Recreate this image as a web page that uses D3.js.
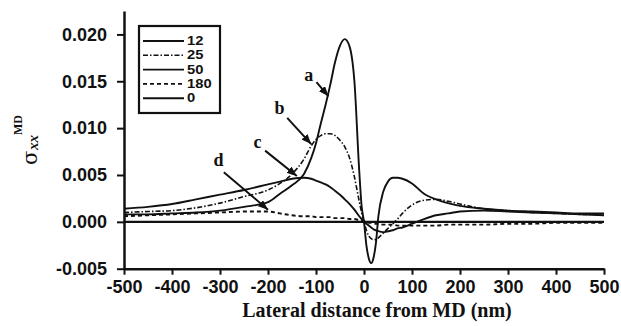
<!DOCTYPE html>
<html>
<head>
<meta charset="utf-8">
<script src="https://cdn.jsdelivr.net/npm/d3@7"></script>
<style>
  body { margin: 0; background: #fff; }
  svg { display: block; }
</style>
</head>
<body>
<div id="chart"><svg width="621" height="326"></svg></div>
<script>
// lateral distance (nm) where the curves were read
const xs = [-500, -450, -400, -350, -300, -250, -200, -175, -150, -125, -110, -100,
    -90, -80, -70, -60, -50, -40, -30, -20, -10, -5, 0,
    5, 10, 15, 20, 25, 30, 40, 50, 60, 70, 80,
    100, 125, 150, 175, 200, 250, 300, 350, 400, 450, 500];

// sigma_xx^MD for each time
const s12 = [0.0008, 0.0008, 0.0009, 0.0010, 0.0012, 0.0016, 0.0021, 0.0030, 0.0039, 0.0051, 0.0068, 0.0084,
    0.0105, 0.0125, 0.0147, 0.0171, 0.0188, 0.0195, 0.0187, 0.0150, 0.0055, 0.0017, 0.0000,
    -0.0025, -0.0039, -0.0044, -0.0038, -0.0022, 0.0006, 0.0032, 0.0043, 0.0047, 0.0047, 0.0046,
    0.0041, 0.0030, 0.0024, 0.0020, 0.0017, 0.0014, 0.0012, 0.0011, 0.0010, 0.0009, 0.0009];
const s25 = [0.0010, 0.0011, 0.0012, 0.0015, 0.0020, 0.0027, 0.0034, 0.0041, 0.0051, 0.0067, 0.0081, 0.0088,
    0.0092, 0.0094, 0.0094, 0.0092, 0.0087, 0.0080, 0.0068, 0.0048, 0.0022, 0.0010, 0.0000,
    -0.0009, -0.0015, -0.0018, -0.0019, -0.0019, -0.0017, -0.0012, -0.0007, -0.0002, 0.0003, 0.0009,
    0.0018, 0.0023, 0.0024, 0.0022, 0.0019, 0.0014, 0.0012, 0.0010, 0.0009, 0.0008, 0.0008];
const s50 = [0.0014, 0.0016, 0.0019, 0.0024, 0.0029, 0.0034, 0.0040, 0.0043, 0.0046, 0.0047, 0.0046, 0.0044,
    0.0042, 0.0040, 0.0037, 0.0033, 0.0029, 0.0024, 0.0019, 0.0013, 0.0006, 0.0003, 0.0000,
    -0.0002, -0.0004, -0.0006, -0.0008, -0.0009, -0.0010, -0.0011, -0.0010, -0.0009, -0.0007, -0.0006,
    -0.0002, 0.0003, 0.0007, 0.0009, 0.0011, 0.0012, 0.0011, 0.0010, 0.0009, 0.0008, 0.0007];
const s180 = [0.0006, 0.0007, 0.0008, 0.0009, 0.0010, 0.0011, 0.0011, 0.0009, 0.0007, 0.0006, 0.0006, 0.0005,
    0.0005, 0.0005, 0.0005, 0.0004, 0.0004, 0.0004, 0.0003, 0.0003, 0.0002, 0.0002, 0.0001,
    0.0000, -0.0001, -0.0001, -0.0002, -0.0002, -0.0002, -0.0003, -0.0003, -0.0003, -0.0004, -0.0004,
    -0.0004, -0.0004, -0.0004, -0.0003, -0.0003, -0.0003, -0.0002, -0.0002, -0.0001, -0.0001, -0.0001];
const zeroX = [-500, 500];
const s0 = [0, 0];

const legendLabels = ["12", "25", "50", "180", "0"];
const xTicks = [-500, -400, -300, -200, -100, 0, 100, 200, 300, 400, 500];
const xTickLabels = ["-500", "-400", "-300", "-200", "-100", "0", "100", "200", "300", "400", "500"];
const yTicks = [-0.005, 0, 0.005, 0.010, 0.015, 0.020];
const yTickLabels = ["-0.005", "0.000", "0.005", "0.010", "0.015", "0.020"];

// letter, text position, arrow start, arrow tip (data units)
const noteLetters = ["a", "b", "c", "d"];
const noteText = [[-115, 0.0157], [-176, 0.0121], [-222, 0.0085], [-303, 0.0066]];
const noteFrom = [[-99, 0.0149], [-160, 0.0111], [-206, 0.0076], [-292, 0.0053]];
const noteTip = [[-74, 0.0134], [-110, 0.0083], [-140, 0.0049], [-200, 0.0013]];

const svg = d3.select("#chart svg");

const x = d3.scaleLinear().domain([-500, 500]).range([124, 604]);
const y = d3.scaleLinear().domain([-0.005, 0.0225]).range([268.7, 11]);

const ink = "#111";

svg.append("defs").append("marker")
    .attr("id", "head")
    .attr("viewBox", "0 0 10 8")
    .attr("refX", 10).attr("refY", 4)
    .attr("markerWidth", 10).attr("markerHeight", 8)
    .attr("markerUnits", "userSpaceOnUse")
    .attr("orient", "auto")
    .append("path")
    .attr("d", "M0,0 L10,4 L0,8 Z")
    .attr("fill", ink);

// axes
let xAxis = svg.append("g")
    .attr("transform", `translate(0,${y(-0.005)})`)
    .call(d3.axisBottom(x).tickValues(xTicks)
        .tickFormat((d, i) => xTickLabels[i])
        .tickSize(6).tickSizeOuter(0).tickPadding(6));
let yAxis = svg.append("g")
    .attr("transform", `translate(${x(-500)},0)`)
    .call(d3.axisLeft(y).tickValues(yTicks)
        .tickFormat((d, i) => yTickLabels[i])
        .tickSize(7).tickSizeOuter(0).tickPadding(10));

[xAxis, yAxis].forEach(g => {
    g.select(".domain").attr("stroke", ink).attr("stroke-width", 2.5);
    g.selectAll(".tick line").attr("stroke", ink).attr("stroke-width", 2);
    g.selectAll(".tick text")
        .attr("fill", ink)
        .style("font-family", "'Liberation Sans', Arial, sans-serif")
        .style("font-weight", "bold")
        .style("font-size", "18px");
});

// curves
let line = d3.line()
    .x(d => x(d[0]))
    .y(d => y(d[1]))
    .curve(d3.curveMonotoneX);

let series = [
    {vals: s12, xv: xs, dash: null, w: 1.9},
    {vals: s25, xv: xs, dash: "5,2,1.5,2", w: 1.6},
    {vals: s50, xv: xs, dash: null, w: 1.9},
    {vals: s180, xv: xs, dash: "4,3", w: 1.9},
    {vals: s0, xv: zeroX, dash: null, w: 2.3}
];

svg.selectAll("path.curve")
    .data(series)
    .enter()
    .append("path")
    .attr("class", "curve")
    .attr("d", s => line(s.xv.map((v, i) => [v, s.vals[i]])))
    .attr("fill", "none")
    .attr("stroke", ink)
    .attr("stroke-width", s => s.w)
    .attr("stroke-dasharray", s => s.dash);

// annotations a-d
noteLetters.forEach((l, i) => {
    svg.append("line")
        .attr("x1", x(noteFrom[i][0])).attr("y1", y(noteFrom[i][1]))
        .attr("x2", x(noteTip[i][0])).attr("y2", y(noteTip[i][1]))
        .attr("stroke", ink).attr("stroke-width", 2)
        .attr("marker-end", "url(#head)");
    svg.append("text")
        .attr("x", x(noteText[i][0])).attr("y", y(noteText[i][1]))
        .attr("text-anchor", "middle")
        .attr("dominant-baseline", "central")
        .style("font-family", "'Liberation Serif', 'Times New Roman', serif")
        .style("font-weight", "bold")
        .style("font-size", "18px")
        .attr("fill", ink)
        .text(l);
});

// legend
let legend = svg.append("g");
legend.append("rect")
    .attr("x", 139).attr("y", 26)
    .attr("width", 81).attr("height", 87)
    .attr("fill", "#fff")
    .attr("stroke", ink).attr("stroke-width", 2.2);
let rows = legend.selectAll("g.row")
    .data(series)
    .enter()
    .append("g")
    .attr("class", "row")
    .attr("transform", (d, i) => `translate(0,${41 + i * 14.3})`);
rows.append("line")
    .attr("x1", 143).attr("x2", 184)
    .attr("stroke", ink)
    .attr("stroke-width", s => Math.min(s.w, 2))
    .attr("stroke-dasharray", s => s.dash);
rows.append("text")
    .attr("transform", "translate(187,0) scale(1.18,1)")
    .attr("dominant-baseline", "central")
    .style("font-family", "'Liberation Sans', Arial, sans-serif")
    .style("font-weight", "bold")
    .style("font-size", "12.5px")
    .attr("fill", ink)
    .text((d, i) => legendLabels[i]);

// axis titles
svg.append("text")
    .attr("x", 377).attr("y", 317)
    .attr("text-anchor", "middle")
    .style("font-family", "'Liberation Serif', 'Times New Roman', serif")
    .style("font-weight", "bold")
    .style("font-size", "20px")
    .attr("fill", ink)
    .text("Lateral distance from MD (nm)");

let yt = svg.append("g")
    .attr("transform", "translate(37,165) rotate(-90)")
    .style("font-family", "'DejaVu Serif', 'Liberation Serif', serif")
    .attr("fill", ink);
yt.append("text").attr("x", 0).attr("y", 0)
    .style("font-size", "21px").text("σ");
yt.append("text").attr("x", 15).attr("y", 1)
    .style("font-family", "'Liberation Serif', serif")
    .style("font-size", "15px").style("font-style", "italic").style("font-weight", "bold").text("xx");
yt.append("text").attr("x", 30).attr("y", -15)
    .style("font-family", "'Liberation Serif', serif")
    .style("font-size", "12px").style("font-weight", "bold").text("MD");
</script>
</body>
</html>
